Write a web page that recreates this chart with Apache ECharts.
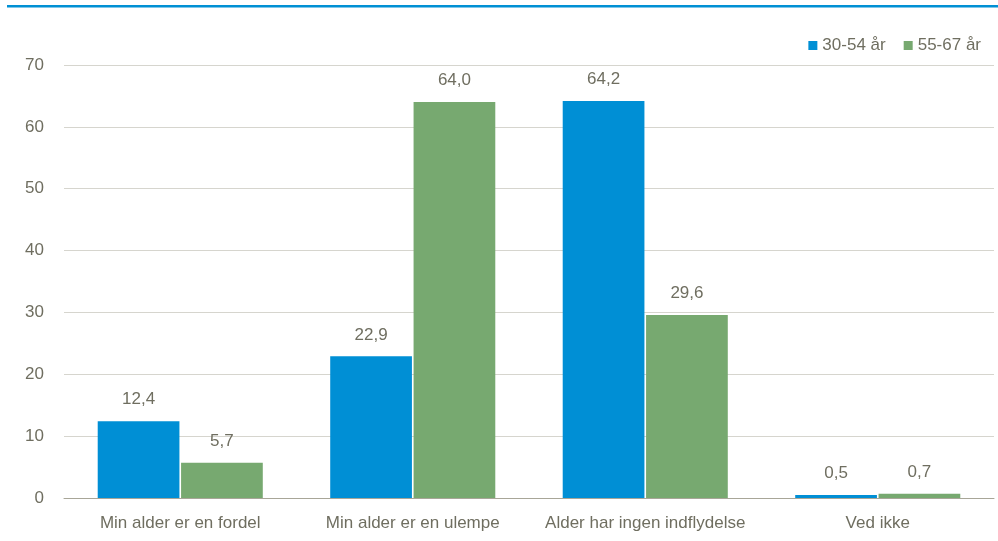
<!DOCTYPE html>
<html>
<head>
<meta charset="utf-8">
<script src="https://cdn.jsdelivr.net/npm/echarts@6/dist/echarts.min.js"></script>
<style>
  html, body { margin: 0; padding: 0; background: #fff; }
  #chart { width: 998px; height: 541px; }
</style>
</head>
<body>
<div id="chart"></div>
<script>
const categories = ["Min alder er en fordel", "Min alder er en ulempe", "Alder har ingen indflydelse", "Ved ikke"];
const seriesNames = ["30-54 år", "55-67 år"];
const young = [12.4, 22.9, 64.2, 0.5];
const old = [5.7, 64.0, 29.6, 0.7];

const textColor = "#6f6e60";
const font = "'Liberation Sans Narrow', 'Arial Narrow', 'Liberation Sans', Arial, sans-serif";
const fmt = (p) => p.value.toFixed(1).replace(".", ",");

const chart = echarts.init(document.getElementById("chart"));
chart.setOption({
  animation: false,
  textStyle: { fontFamily: font },
  graphic: [
    { type: "rect", shape: { x: 7, y: 5, width: 991, height: 2.5 }, style: { fill: "#0090d4" } },
  ],
  legend: {
    top: 32,
    right: 12,
    itemWidth: 9,
    itemHeight: 9,
    itemGap: 18,
    icon: "rect",
    textStyle: { color: textColor, fontSize: 17, fontFamily: font },
    data: seriesNames,
  },
  grid: { left: 64, right: 4, top: 65, bottom: 43 },
  xAxis: {
    type: "category",
    data: categories,
    axisTick: { show: false },
    axisLine: { lineStyle: { color: "#a8a698", width: 1 } },
    axisLabel: { color: textColor, fontSize: 17, margin: 17, interval: 0, fontFamily: font },
  },
  yAxis: {
    type: "value",
    min: 0,
    max: 70,
    interval: 10,
    axisLabel: { color: textColor, fontSize: 17, margin: 20, fontFamily: font },
    splitLine: { lineStyle: { color: "#d6d5ce", width: 1 } },
  },
  series: [
    {
      name: seriesNames[0],
      type: "bar",
      data: young,
      itemStyle: { color: "#008fd5" },
      barCategoryGap: "29%",
      barGap: "2%",
      label: { show: true, position: "top", distance: 13, color: textColor, fontSize: 17, fontFamily: font, formatter: fmt },
    },
    {
      name: seriesNames[1],
      type: "bar",
      data: old,
      itemStyle: { color: "#77a970" },
      barCategoryGap: "29%",
      barGap: "2%",
      label: { show: true, position: "top", distance: 13, color: textColor, fontSize: 17, fontFamily: font, formatter: fmt },
    },
  ],
});
</script>
</body>
</html>
